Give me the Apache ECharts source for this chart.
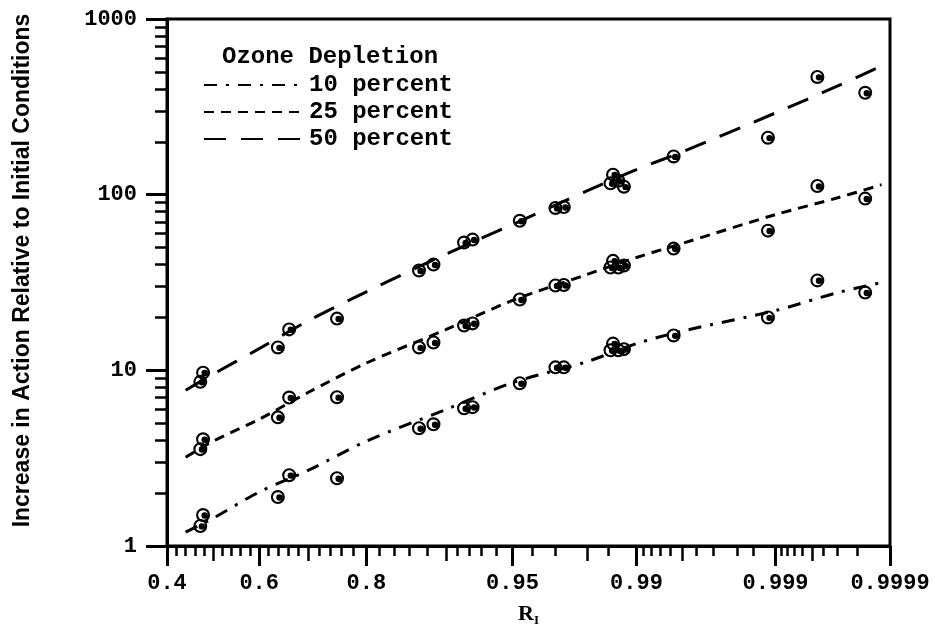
<!DOCTYPE html>
<html>
<head>
<meta charset="utf-8">
<script src="https://cdn.jsdelivr.net/npm/echarts@6/dist/echarts.min.js"></script>
<style>
html, body { margin: 0; padding: 0; background: #fff; }
#chart { width: 935px; height: 629px; }
</style>
</head>
<body>
<div id="chart"></div>
<script>
// probability axis: labelled values and tick marks (in R)
const xTickLabels = ['0.4', '0.6', '0.8', '0.95', '0.99', '0.999', '0.9999'];
const xMidTicks = [0.5, 0.7, 0.9, 0.98, 0.995, 0.9995];
const xMinorTicks = [0.42, 0.44, 0.46, 0.48, 0.52, 0.54, 0.56, 0.58,
  0.62, 0.64, 0.66, 0.68, 0.72, 0.74, 0.76, 0.78,
  0.82, 0.84, 0.86, 0.88, 0.91, 0.92, 0.93, 0.94,
  0.96, 0.97, 0.985, 0.991, 0.992, 0.993, 0.994, 0.996, 0.997, 0.998, 0.9985,
  0.9991, 0.9992, 0.9993, 0.9994, 0.9996, 0.9997, 0.9998];
const yTickLabels = [1, 10, 100, 1000];
const yMinorTicks = [2, 3, 4, 5, 6, 7, 8, 9, 20, 30, 40, 50, 60, 70, 80, 90,
  200, 300, 400, 500, 600, 700, 800, 900];

// computed points
const pointR = [0.472, 0.478, 0.639, 0.662, 0.752, 0.871, 0.887, 0.916, 0.923, 0.954,
  0.970, 0.973, 0.9855, 0.986, 0.987, 0.988, 0.9943, 0.99885, 0.99955, 0.99983];
const points10 = [1.30, 1.50, 1.90, 2.53, 2.43, 4.68, 4.93, 6.08, 6.17, 8.44,
  10.4, 10.4, 13.0, 14.2, 13.0, 13.2, 15.8, 20.0, 32.5, 27.7];
const points25 = [3.56, 4.05, 5.4, 7.0, 7.03, 13.5, 14.4, 18.0, 18.5, 25.3,
  30.4, 30.6, 38.5, 42, 38.5, 39.5, 49.3, 62.4, 112, 95];
const points50 = [8.6, 9.7, 13.5, 17.1, 19.7, 37, 40, 53.4, 55.5, 71,
  84, 85, 116, 130, 120, 111, 165, 211, 468, 380];

// fitted curves
const lineR = [0.44, 0.5, 0.6, 0.7, 0.8, 0.9, 0.95, 0.98, 0.99, 0.995, 0.999, 0.9997, 0.99988];
const line10 = [1.2, 1.44, 2.03, 2.7, 3.95, 6.0, 8.5, 11.2, 14.2, 16.7, 21.9, 27.7, 31.6];
const line25 = [3.2, 3.95, 5.27, 7.5, 11.0, 17.1, 25, 35.1, 43.9, 52.7, 77, 96, 114];
const line50 = [7.7, 9.5, 13.3, 19.2, 28, 46, 67.6, 105, 139, 175, 292, 416, 540];

const seriesNames = ['10 percent', '25 percent', '50 percent'];

// inverse normal cdf (probability scale)
function probit(p) {
  const a = [-3.969683028665376e+01, 2.209460984245205e+02, -2.759285104469687e+02, 1.383577518672690e+02, -3.066479806614716e+01, 2.506628277459239e+00];
  const b = [-5.447609879822406e+01, 1.615858368580409e+02, -1.556989798598866e+02, 6.680131188771972e+01, -1.328068155288572e+01];
  const c = [-7.784894002430293e-03, -3.223964580411365e-01, -2.400758277161838e+00, -2.549671500908054e+00, 4.374664141464968e+00, 2.938163982698783e+00];
  const d = [7.784695709041462e-03, 3.224671290700398e-01, 2.445134137142996e+00, 3.754408661907416e+00];
  const pl = 0.02425;
  let q, r;
  if (p < pl) {
    q = Math.sqrt(-2 * Math.log(p));
    return (((((c[0] * q + c[1]) * q + c[2]) * q + c[3]) * q + c[4]) * q + c[5]) / ((((d[0] * q + d[1]) * q + d[2]) * q + d[3]) * q + 1);
  }
  if (p > 1 - pl) {
    q = Math.sqrt(-2 * Math.log(1 - p));
    return -(((((c[0] * q + c[1]) * q + c[2]) * q + c[3]) * q + c[4]) * q + c[5]) / ((((d[0] * q + d[1]) * q + d[2]) * q + d[3]) * q + 1);
  }
  q = p - 0.5;
  r = q * q;
  return (((((a[0] * r + a[1]) * r + a[2]) * r + a[3]) * r + a[4]) * r + a[5]) * q / (((((b[0] * r + b[1]) * r + b[2]) * r + b[3]) * r + b[4]) * r + 1);
}

const majorZ = xTickLabels.map(s => probit(parseFloat(s)));
const xMin = majorZ[0];
const xMax = majorZ[majorZ.length - 1];

function pairs(rs, vals) {
  return rs.map((r, i) => [probit(r), vals[i]]);
}

// ring with offset dot
const ringSymbol = 'path://M10 0A10 10 0 1 1 10 20A10 10 0 1 1 10 0Z' +
  'M10 3A7 7 0 1 0 10 17A7 7 0 1 0 10 3Z' +
  'M12.3 6A4.6 4.6 0 1 1 12.3 15.2A4.6 4.6 0 1 1 12.3 6Z';

const labelFont = { fontFamily: 'Liberation Mono', fontWeight: 'bold', fontSize: 22, color: '#000' };
const dashes = [[13, 9, 3, 9], [10, 7], [22, 15]];
const lineData = [line10, line25, line50];
const pointData = [points10, points25, points50];

function minorXAxis(values, len, width) {
  return {
    type: 'value', min: xMin, max: xMax, position: 'bottom',
    axisLine: { show: false, onZero: false },
    axisTick: { customValues: values.map(probit), length: len, lineStyle: { color: '#000', width: width } },
    axisLabel: { show: false },
    splitLine: { show: false }
  };
}

const option = {
  animation: false,
  backgroundColor: '#fff',
  grid: {
    left: 167, right: 45, top: 19, bottom: 83,
    outerBoundsMode: 'none',
    show: true, borderColor: '#000', borderWidth: 3
  },
  title: {
    text: 'Ozone Depletion',
    left: 222, top: 45, padding: 0,
    textStyle: { fontFamily: 'Liberation Mono', fontWeight: 'bold', fontSize: 24, color: '#000' }
  },
  legend: {
    data: seriesNames,
    orient: 'vertical',
    left: 203, top: 73, padding: 0,
    itemWidth: 100, itemHeight: 14, itemGap: 3,
    itemStyle: { opacity: 0 },
    textStyle: { fontFamily: 'Liberation Mono', fontWeight: 'bold', fontSize: 24, lineHeight: 24, color: '#000' }
  },
  xAxis: [
    {
      type: 'value', min: xMin, max: xMax, position: 'bottom',
      axisLine: { onZero: false, lineStyle: { color: '#000', width: 3 } },
      axisTick: { customValues: majorZ, length: 20, lineStyle: { color: '#000', width: 3 } },
      axisLabel: Object.assign({
        customValues: majorZ,
        margin: 26,
        formatter: function (v) {
          let best = 0;
          majorZ.forEach((z, i) => { if (Math.abs(z - v) < Math.abs(majorZ[best] - v)) best = i; });
          return xTickLabels[best];
        }
      }, labelFont),
      splitLine: { show: false },
      name: 'R{s|I}',
      nameLocation: 'middle',
      nameGap: 56,
      nameTextStyle: {
        fontFamily: 'Liberation Serif', fontWeight: 'bold', fontSize: 22, color: '#000',
        rich: { s: { fontFamily: 'Liberation Serif', fontWeight: 'bold', fontSize: 13, color: '#000', padding: [12, 0, 0, 0] } }
      }
    },
    minorXAxis(xMidTicks, 15, 2.5),
    minorXAxis(xMinorTicks, 10, 2.5)
  ],
  yAxis: [
    {
      type: 'log', logBase: 10, min: 1, max: 1000, position: 'left',
      axisLine: { onZero: false, lineStyle: { color: '#000', width: 3 } },
      axisTick: { length: 21, lineStyle: { color: '#000', width: 3 } },
      axisLabel: Object.assign({ margin: 30, formatter: v => String(v) }, labelFont),
      splitLine: { show: false },
      name: 'Increase in Action Relative to Initial Conditions',
      nameLocation: 'middle',
      nameGap: 133,
      nameTextStyle: {
        fontFamily: 'Liberation Sans', fontWeight: 'bold', fontSize: 23, color: '#000',
        padding: [0, 0, 0, 24]
      }
    },
    {
      type: 'log', logBase: 10, min: 1, max: 1000, position: 'left',
      axisLine: { show: false, onZero: false },
      axisTick: { customValues: yMinorTicks, length: 12, lineStyle: { color: '#000', width: 2.5 } },
      axisLabel: { show: false },
      splitLine: { show: false }
    }
  ],
  series: []
};

seriesNames.forEach((name, i) => {
  option.series.push({
    name: name,
    type: 'line',
    data: pairs(lineR, lineData[i]),
    smooth: 0.3,
    symbol: 'none',
    lineStyle: { color: '#000', width: 3, type: dashes[i] },
    itemStyle: { color: '#000' },
    z: 2
  });
});
seriesNames.forEach((name, i) => {
  option.series.push({
    name: name + ' points',
    type: 'scatter',
    data: pairs(pointR, pointData[i]),
    symbol: ringSymbol,
    symbolSize: 14,
    itemStyle: { color: '#000', opacity: 1 },
    z: 3
  });
});

const chart = echarts.init(document.getElementById('chart'));
chart.setOption(option);
</script>
</body>
</html>
